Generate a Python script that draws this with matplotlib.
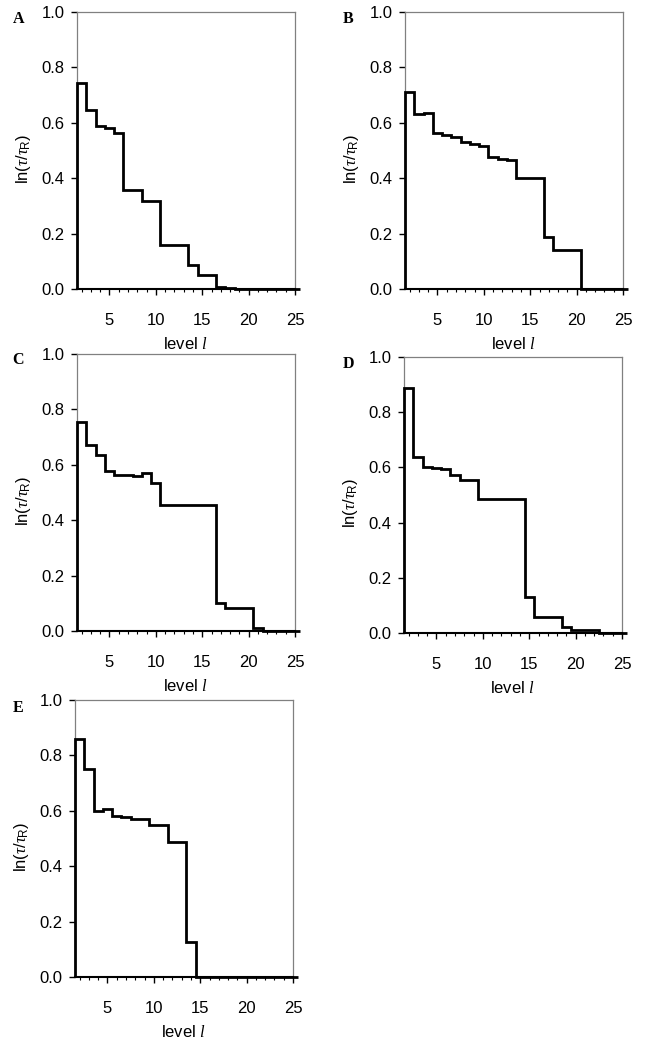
import numpy as np
import matplotlib
matplotlib.use('Agg')
import matplotlib.pyplot as plt
from matplotlib.ticker import MultipleLocator, FormatStrFormatter

plt.rcParams['font.family'] = ['Liberation Sans', 'DejaVu Sans']
plt.rcParams['mathtext.fontset'] = 'custom'
plt.rcParams['mathtext.rm'] = 'Liberation Sans'
plt.rcParams['mathtext.it'] = 'Liberation Serif:italic'
plt.rcParams['mathtext.bf'] = 'Liberation Sans:bold'

levels = list(range(2, 26))
panel_labels = ['A', 'B', 'C', 'D', 'E']

values_A = [0.742, 0.647, 0.588, 0.582, 0.564, 0.359, 0.359, 0.316, 0.316,
            0.160, 0.160, 0.160, 0.088, 0.052, 0.052, 0.007, 0.002,
            0, 0, 0, 0, 0, 0, 0]
values_B = [0.712, 0.630, 0.634, 0.562, 0.555, 0.547, 0.529, 0.523, 0.516,
            0.475, 0.468, 0.464, 0.400, 0.400, 0.400, 0.186, 0.140, 0.140, 0.140,
            0, 0, 0, 0, 0]
values_C = [0.754, 0.672, 0.636, 0.576, 0.564, 0.564, 0.561, 0.569, 0.534,
            0.455, 0.455, 0.455, 0.456, 0.456, 0.456, 0.102, 0.084, 0.084, 0.084,
            0.010, 0, 0, 0, 0]
values_D = [0.886, 0.636, 0.602, 0.599, 0.593, 0.572, 0.554, 0.554,
            0.487, 0.487, 0.487, 0.487, 0.487, 0.130, 0.057, 0.057, 0.057,
            0.020, 0.010, 0.010, 0.010, 0, 0, 0]
values_E = [0.861, 0.751, 0.600, 0.608, 0.581, 0.576, 0.572, 0.572, 0.548,
            0.548, 0.487, 0.487, 0.127,
            0, 0, 0, 0, 0, 0, 0, 0, 0, 0, 0]

yticks = [0.0, 0.2, 0.4, 0.6, 0.8, 1.0]
xticks = [5, 10, 15, 20, 25]

all_values = [values_A, values_B, values_C, values_D, values_E]

W, H = 651, 1050
fig = plt.figure(figsize=(W / 100, H / 100), dpi=100)

# axes boxes in pixels: x0, x1, top, bottom
boxes = [(77, 295, 12, 289), (405, 623, 12, 289),
         (77, 295, 354, 631), (404, 622, 357, 633),
         (75, 293, 700, 977)]
letter_pos = [(19, 19), (348, 19), (18, 360), (348, 364), (18, 708)]

lev = np.array(levels, dtype=float)
edges = np.append(lev - 0.5, lev[-1] + 0.5)

FS = 12

for lab, vals, (x0, x1, top, bot), (lx, ly) in zip(panel_labels, all_values, boxes, letter_pos):
    ax = fig.add_axes([x0 / W, 1 - bot / H, (x1 - x0) / W, (bot - top) / H])
    ax.stairs(vals, edges, baseline=0, color='black', lw=2.0, clip_on=False, zorder=3)
    ax.set_xlim(1.5, 25)
    ax.set_ylim(0, 1.0)
    ax.set_yticks(yticks)
    ax.yaxis.set_major_formatter(FormatStrFormatter('%.1f'))
    ax.set_xticks(xticks)
    ax.xaxis.set_minor_locator(MultipleLocator(1))
    for s in ['top', 'right', 'left']:
        ax.spines[s].set_color('#808080')
        ax.spines[s].set_linewidth(0.9)
    ax.spines['bottom'].set_color('black')
    ax.spines['bottom'].set_linewidth(1.5)
    ax.tick_params(axis='x', which='major', direction='out', length=4, width=1.0,
                   pad=13, labelsize=FS)
    ax.tick_params(axis='x', which='minor', direction='out', length=2.5, width=0.8)
    ax.tick_params(axis='y', which='major', direction='out', length=4, width=1.0,
                   pad=5, labelsize=FS)
    ax.set_ylabel(r'ln$(\tau/\tau_{\mathrm{R}})$', fontsize=FS)
    ax.yaxis.set_label_coords(-0.20, 0.47)
    ax.set_xlabel(r'level $l$', fontsize=FS)
    ax.xaxis.set_label_coords(0.5, -0.17)
    fig.text(lx / W, 1 - ly / H, lab, fontfamily='Liberation Serif', fontweight='bold',
             fontsize=11.5, ha='center', va='center')

fig.savefig('out.png', dpi=100, facecolor='white')
